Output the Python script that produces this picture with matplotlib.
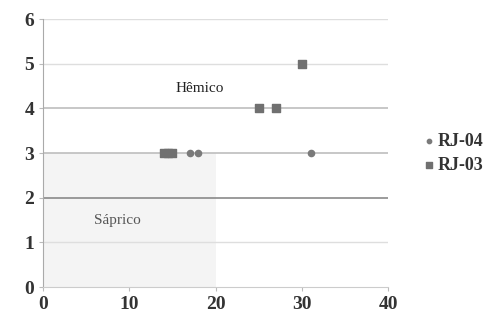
import matplotlib
matplotlib.use("Agg")
import matplotlib.pyplot as plt
from matplotlib.patches import Rectangle

rj04_x = [17, 18, 31]
rj04_y = [3, 3, 3]
rj03_x = [14, 14.5, 15, 25, 27, 30]
rj03_y = [3, 3, 3, 4, 4, 5]
x_ticks = [0, 10, 20, 30, 40]
y_ticks = [0, 1, 2, 3, 4, 5, 6]

plt.rcParams['font.family'] = ['Liberation Serif', 'DejaVu Serif']

fig = plt.figure(figsize=(4.84, 3.2), dpi=100)
ax = fig.add_axes([0.089, 0.103, 0.713, 0.837])
ax.set_xlim(0, 40)
ax.set_ylim(0, 6)

ax.add_patch(Rectangle((0, 0), 20, 3, facecolor='#f4f4f4', edgecolor='none', zorder=0))
for y in y_ticks[1:]:
    c = '#dedede'
    lw = 1.0
    if y == 2:
        c = '#8a8a8a'; lw = 1.2
    elif y in (3, 4):
        c = '#b8b8b8'; lw = 1.1
    ax.axhline(y, color=c, lw=lw, zorder=1)

ax.scatter(rj04_x, rj04_y, marker='o', s=20, color='#7a7a7a', zorder=3, label='RJ-04')
ax.scatter(rj03_x, rj03_y, marker='s', s=36, color='#707070', zorder=3, label='RJ-03')

ax.text(18.2, 4.45, 'Hêmico', ha='center', va='center', fontsize=11, color='#222222')
ax.text(8.6, 1.5, 'Sáprico', ha='center', va='center', fontsize=11, color='#555555')

ax.set_xticks(x_ticks)
ax.set_yticks(y_ticks)
ax.tick_params(axis='both', labelsize=14, colors='#333333', length=3, color='#bbbbbb')
for lab in ax.get_xticklabels() + ax.get_yticklabels():
    lab.set_fontweight('bold')
for s in ['top', 'right']:
    ax.spines[s].set_visible(False)
ax.spines['left'].set_color('#aaaaaa')
ax.spines['bottom'].set_color('#cccccc')

leg = ax.legend(loc='center left', bbox_to_anchor=(1.05, 0.5), frameon=False,
                prop={'size': 13, 'weight': 'bold'}, handletextpad=0.1,
                handlelength=0.8, labelspacing=0.4, markerscale=0.7)
for t in leg.get_texts():
    t.set_color('#333333')

fig.savefig('out.png', dpi=100)
